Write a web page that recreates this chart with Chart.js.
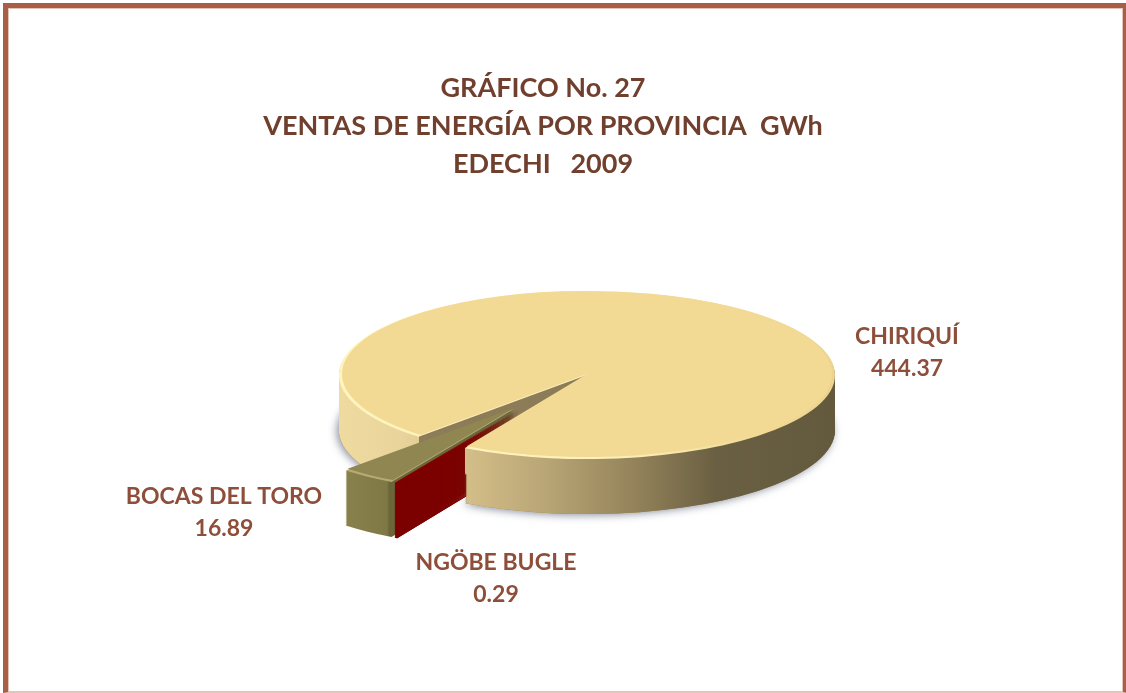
<!DOCTYPE html>
<html>
<head>
<meta charset="utf-8">
<script src="https://cdn.jsdelivr.net/npm/chart.js@4"></script>
<style>
html,body{margin:0;padding:0;background:#fff;width:1126px;height:693px;overflow:hidden}
#frame{position:absolute;left:3px;top:3px;width:1125px;height:690px;box-sizing:border-box;
 border:5px solid #a85f47;border-bottom:1px solid #e6c6b8;
 box-shadow:inset 0 0 0 1px #e3c3b5}
canvas{position:absolute;left:0;top:0}
</style>
</head>
<body>
<div id="frame"></div>
<canvas id="c" width="1126" height="693"></canvas>
<script>
const titleLines = ['GRÁFICO No. 27', 'VENTAS DE ENERGÍA POR PROVINCIA  GWh', 'EDECHI   2009'];
const categories = ['BOCAS DEL TORO', 'CHIRIQUÍ', 'NGÖBE BUGLE'];
const salesGWh = [16.89, 444.37, 0.29];
const valueLabels = ['16.89', '444.37', '0.29'];

const CX = 587, CY = 375, SQUASH = 0.339, DEPTH = 55;
const shifts = [[-73, 100], [0, 0], [-69, 103]];
const labelAt = [[224, 497], [907, 337], [496, 563]];
const LABEL_GAP = 32;

const pie3d = {
  id: 'pie3d',
  beforeDatasetsDraw(chart) {
    const ctx = chart.ctx;
    const [bocas, main, ngobe] = chart.getDatasetMeta(0).data;
    const ax = main.x, ay = main.y, R = main.outerRadius;

    const paint = (arc, shift, dy, fill, shrink) => {
      const o = arc.options, r = arc.outerRadius;
      arc.options = Object.assign({}, o, {backgroundColor: fill, borderWidth: 0});
      if (shrink) arc.outerRadius = r - shrink;
      ctx.save();
      ctx.translate(CX + shift[0], CY + shift[1] * SQUASH + dy);
      ctx.scale(1, SQUASH);
      ctx.translate(-ax, -ay);
      arc.draw(ctx);
      ctx.restore();
      arc.options = o; arc.outerRadius = r;
    };
    const extrude = (arc, shift, fill) => {
      for (let d = DEPTH; d > 0; d -= 1) paint(arc, shift, d, fill);
    };
    // screen-space gradient mapped into the arc's local x
    const xGradient = (x0, x1, shift, stops) => {
      const off = ax - CX - shift[0];
      const g = ctx.createLinearGradient(x0 + off, 0, x1 + off, 0);
      stops.forEach(s => g.addColorStop(s[0], s[1]));
      return g;
    };

    // where the notch edges of the main slice reach the rim
    const leftX = CX + R * Math.cos(main.startAngle);
    const rightX = CX + R * Math.cos(main.endAngle);
    const rightY = CY + R * Math.sin(main.endAngle) * SQUASH;

    const outer = xGradient(339, 836, [0, 0], [
      [0, '#efdba0'], [0.12, '#e9d59c'], [0.26, '#d3bd88'], [0.42, '#b8a575'],
      [0.58, '#97865d'], [0.76, '#6a5f42'], [1, '#635a3e']
    ]);

    // soft shadow under the main body
    ctx.save();
    ctx.shadowColor = 'rgba(70,80,105,0.65)';
    ctx.shadowBlur = 9;
    ctx.shadowOffsetX = -2;
    ctx.shadowOffsetY = 1;
    paint(main, [0, 0], DEPTH, '#e9d59c');
    ctx.restore();

    // cut face in the notch, then outer wall on the left
    extrude(main, [0, 0], '#8d7c58');
    ctx.save();
    ctx.beginPath(); ctx.rect(0, 0, leftX, 693); ctx.clip();
    extrude(main, [0, 0], outer);
    ctx.restore();

    // exploded slices
    const bocasWall = xGradient(343, 392, shifts[0], [
      [0, '#8a824c'], [0.9, '#7f7845'], [0.94, '#6b653a'], [1, '#6b653a']
    ]);
    extrude(bocas, shifts[0], bocasWall);
    paint(bocas, shifts[0], 0, '#b3ab72');
    paint(bocas, [shifts[0][0], shifts[0][1] - 3], 0, '#8f8652', 3);

    // the red slice is a sliver: widen it slightly so the wall fills solidly
    const s0 = ngobe.startAngle, e0 = ngobe.endAngle;
    ngobe.startAngle = s0 - 0.004; ngobe.endAngle = e0 + 0.004;
    extrude(ngobe, shifts[2], '#7c0000');
    extrude(ngobe, shifts[2], '#7c0000');
    paint(ngobe, shifts[2], 0, '#8a0000');
    ngobe.startAngle = s0; ngobe.endAngle = e0;

    // front wall covers what lies behind it
    ctx.save();
    ctx.beginPath();
    ctx.moveTo(rightX, rightY);
    ctx.lineTo(CX, CY);
    ctx.lineTo(1126, CY);
    ctx.lineTo(1126, 693);
    ctx.lineTo(rightX, 693);
    ctx.closePath();
    ctx.clip();
    extrude(main, [0, 0], outer);
    ctx.restore();

    // top face with a light rim
    const rim = xGradient(339, 836, [0, 0], [[0, '#fff4bd'], [0.55, '#fdf0b8'], [0.85, '#f2d994'], [1, '#ecd48f']]);
    paint(main, [0, 0], 0, rim);
    paint(main, [0, -3], 0, main.options.backgroundColor, 3);
    return false;
  },
  afterDraw(chart) {
    const ctx = chart.ctx;
    ctx.save();
    ctx.font = 'bold 23px Lato';
    ctx.fillStyle = '#8e4f3a';
    ctx.textAlign = 'center';
    ctx.textBaseline = 'middle';
    categories.forEach((name, i) => {
      ctx.fillText(name, labelAt[i][0], labelAt[i][1]);
      ctx.fillText(valueLabels[i], labelAt[i][0], labelAt[i][1] + LABEL_GAP);
    });
    ctx.restore();
  }
};

new Chart(document.getElementById('c'), {
  type: 'pie',
  data: {
    labels: categories,
    datasets: [{
      data: salesGWh,
      backgroundColor: ['#8f8652', '#f2d994', '#8a0000'],
      borderWidth: 0
    }]
  },
  options: {
    responsive: false,
    animation: false,
    rotation: 209.6,
    radius: 248,
    layout: {padding: {right: 40}},
    events: [],
    plugins: {
      legend: {display: false},
      tooltip: {enabled: false},
      title: {
        display: true,
        text: titleLines,
        color: '#703f2e',
        font: {family: 'Lato', weight: 'bold', size: 27, lineHeight: 1.41},
        padding: {top: 69, bottom: 0}
      }
    }
  },
  plugins: [pie3d]
});
</script>
</body>
</html>
